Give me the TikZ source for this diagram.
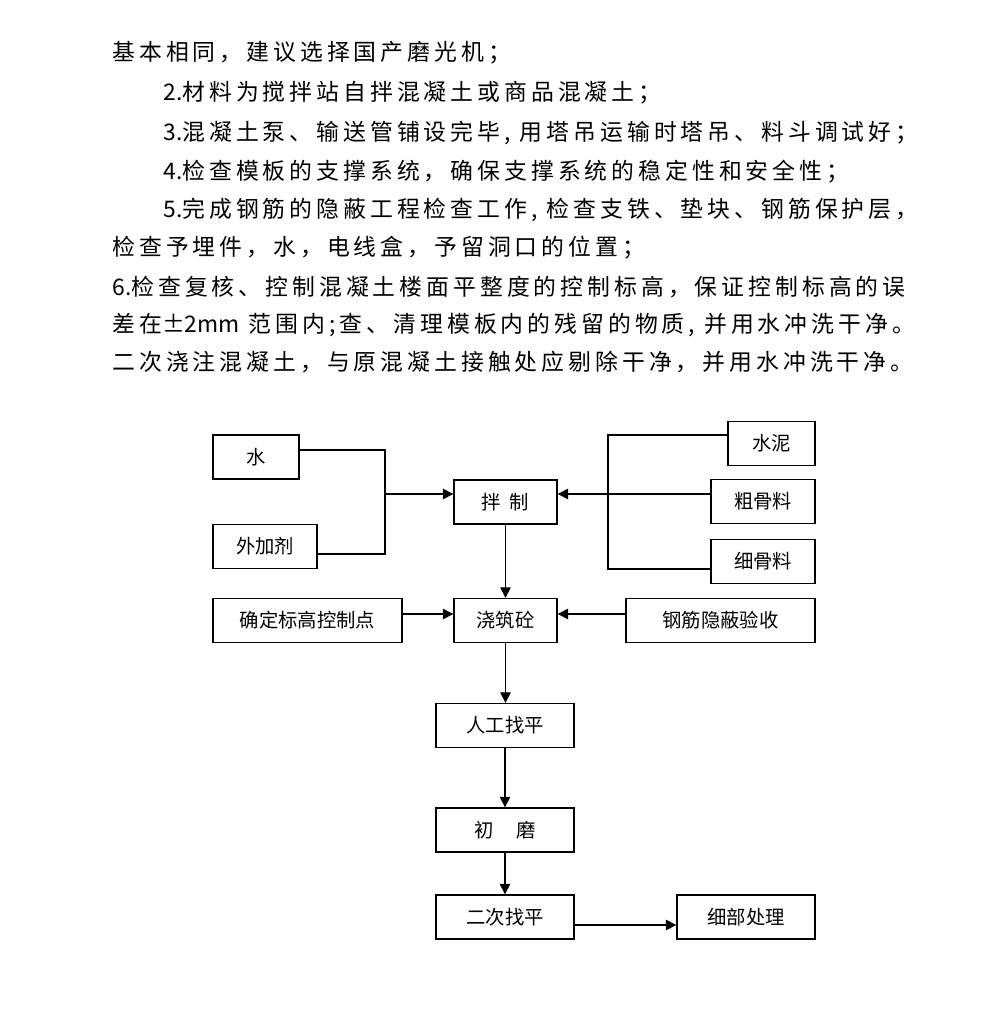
\documentclass[tikz,border=0pt]{standalone}
\usepackage{fontspec}
\setmainfont{Noto Sans CJK SC}
\newfontfamily\bodyfont[LetterSpace=17.5]{Noto Sans CJK SC}
\usetikzlibrary{arrows.meta}

\begin{document}
\begin{tikzpicture}[x=0.02cm,y=-0.02cm,
    box/.style={draw,line width=0.8pt,inner sep=0pt,minimum height=0.88cm,font=\fontsize{11}{13}\selectfont},
    txt/.style={anchor=west,inner sep=0pt,font=\bodyfont\fontsize{13}{15}\selectfont},
    arr/.style={line width=0.8pt,-{Triangle[length=6pt,width=6pt]}},
    ln/.style={line width=0.8pt}]
            \useasboundingbox[fill=white] (0,0) rectangle (998,1022);
            \node[txt] (t1) at (112,53) {基本相同，建议选择国产磨光机；};
            \node[txt] (t2) at (163,93) {{\rmfamily 2.}材料为搅拌站自拌混凝土或商品混凝土；};
            \node[txt] (t3) at (163,133) {{\rmfamily 3.}混凝土泵、输送管铺设完毕, 用塔吊运输时塔吊、料斗调试好；};
            \node[txt] (t4) at (163,172) {{\rmfamily 4.}检查模板的支撑系统，确保支撑系统的稳定性和安全性；};
            \node[txt] (t5) at (163,210) {{\rmfamily 5.}完成钢筋的隐蔽工程检查工作, 检查支铁、垫块、钢筋保护层，};
            \node[txt] (t6) at (112,248) {检查予埋件，水，电线盒，予留洞口的位置；};
            \node[txt] (t7) at (112,287) {{\rmfamily 6.}检查复核、控制混凝土楼面平整度的控制标高，保证控制标高的误};
            \node[txt] (t8) at (112,325) {差在{\rmfamily ±2mm} 范围内;查、清理模板内的残留的物质, 并用水冲洗干净。};
            \node[txt] (t9) at (112,362) {二次浇注混凝土，与原混凝土接触处应剔除干净，并用水冲洗干净。};

            \node[box,minimum width=1.72cm] (water) at (256,457) {水};
            \node[box,minimum width=2.08cm] (admix) at (265,546.5) {外加剂};
            \node[box,minimum width=2.06cm] (mix) at (505.5,502) {拌\hspace{0.45em}制};
            \node[box,minimum width=1.74cm] (cement) at (771.5,443.5) {水泥};
            \node[box,minimum width=2.08cm] (coarse) at (763,501.5) {粗骨料};
            \node[box,minimum width=2.08cm] (fine) at (763,561.5) {细骨料};
            \node[box,minimum width=3.78cm] (elev) at (307.5,620.5) {确定标高控制点};
            \node[box,minimum width=2.06cm] (pour) at (505.5,620.5) {浇筑砼};
            \node[box,minimum width=3.78cm] (rebar) at (720.5,620.5) {钢筋隐蔽验收};
            \node[box,minimum width=2.76cm] (level) at (505,725.5) {人工找平};
            \node[box,minimum width=2.76cm] (grind) at (505,830) {初\hspace{1.2em}磨};
            \node[box,minimum width=2.76cm] (second) at (505,917) {二次找平};
            \node[box,minimum width=2.76cm] (detail) at (746,917) {细部处理};

            \coordinate (lj) at (385,494);
            \coordinate (rj) at (608,494);
            \draw[ln] ([yshift=0.14cm]water.east) -| (lj) |- ([yshift=-0.15cm]admix.east);
            \draw[arr] (lj) -- (lj -| mix.west);
            \draw[ln] ([yshift=0.17cm]cement.west) -| (rj) |- ([yshift=-0.15cm]fine.west);
            \draw[arr] (rj -| coarse.west) -- (rj -| mix.east);
            \draw[arr] (mix) -- (pour);
            \draw[arr] ([yshift=0.13cm]elev.east) -- ([yshift=0.13cm]pour.west);
            \draw[arr] ([yshift=0.13cm]rebar.west) -- ([yshift=0.13cm]pour.east);
            \draw[arr] (pour.south) -- (pour.south |- level.north);
            \draw[arr] (level) -- (grind);
            \draw[arr] (grind) -- (second);
            \draw[arr] ([yshift=-0.16cm]second.east) -- ([yshift=-0.16cm]detail.west);
          \end{tikzpicture}
\end{document}
